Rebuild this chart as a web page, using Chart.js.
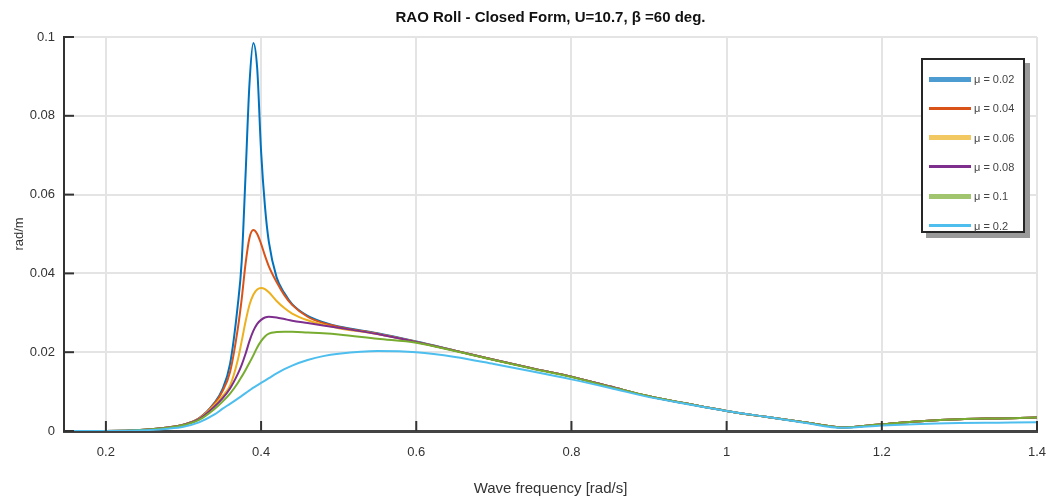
<!DOCTYPE html>
<html>
<head>
<meta charset="utf-8">
<script src="https://cdn.jsdelivr.net/npm/chart.js@4.4.1/dist/chart.umd.min.js"></script>
<style>
    html, body { margin: 0; padding: 0; background: #fff; }
    #wrap { position: relative; width: 1051px; height: 502px; }
    #legend {
        position: absolute; left: 921px; top: 58px; width: 100px; height: 171px;
        border: 2px solid #262626; background: #fff;
        box-shadow: 5px 5px 0 #9a9a9a;
        font-family: "Liberation Sans", Arial, sans-serif;
        font-size: 11px; color: #444;
    }
    .row { position: absolute; left: 6px; height: 12px; display: flex; align-items: center; }
    .swatch { width: 42px; margin-right: 3px; }
</style>
</head>
<body>
<div id="wrap">
    <canvas id="rao" width="1051" height="502"></canvas>
    <div id="legend"></div>
</div>
<script>
// Wave frequency [rad/s]
const freq = [0.15, 0.20, 0.25, 0.28, 0.30, 0.32, 0.34, 0.35, 0.36, 0.37, 0.375, 0.38, 0.385, 0.39, 0.395,
    0.40, 0.405, 0.41, 0.42, 0.43, 0.44, 0.46, 0.48, 0.50, 0.55, 0.60, 0.65, 0.70, 0.75, 0.80, 0.85,
    0.90, 0.95, 1.00, 1.05, 1.10, 1.15, 1.20, 1.25, 1.30, 1.35, 1.40];

// RAO roll [rad/m] per damping value
const mu002 = [0, 0, 0.0003, 0.0009, 0.0016, 0.0032, 0.0072, 0.0105, 0.0170, 0.0320, 0.0430, 0.0650, 0.0880, 0.0985, 0.0920,
    0.0710, 0.0570, 0.0480, 0.0390, 0.0350, 0.0322, 0.0292, 0.0276, 0.0265, 0.0248, 0.0227, 0.0204, 0.0181, 0.0159, 0.0138, 0.0113,
    0.0088, 0.0069, 0.0051, 0.0036, 0.0022, 0.0009, 0.0017, 0.0025, 0.0030, 0.0032, 0.0034];
const mu004 = [0, 0, 0.0003, 0.0009, 0.0016, 0.0032, 0.0070, 0.0100, 0.0150, 0.0260, 0.0335, 0.0425, 0.0490, 0.0510, 0.0500,
    0.0475, 0.0445, 0.0418, 0.0378, 0.0345, 0.0320, 0.0290, 0.0274, 0.0264, 0.0247, 0.0226, 0.0204, 0.0181, 0.0159, 0.0138, 0.0113,
    0.0088, 0.0069, 0.0051, 0.0036, 0.0022, 0.0009, 0.0017, 0.0025, 0.0030, 0.0032, 0.0034];
const mu006 = [0, 0, 0.0003, 0.0009, 0.0016, 0.0031, 0.0066, 0.0088, 0.0115, 0.0180, 0.0228, 0.0278, 0.0320, 0.0346, 0.0359,
    0.0363, 0.0360, 0.0352, 0.0330, 0.0312, 0.0298, 0.0281, 0.0270, 0.0261, 0.0246, 0.0226, 0.0204, 0.0181, 0.0159, 0.0138, 0.0113,
    0.0088, 0.0069, 0.0051, 0.0036, 0.0022, 0.0009, 0.0017, 0.0025, 0.0030, 0.0032, 0.0034];
const mu008 = [0, 0, 0.0003, 0.0009, 0.0016, 0.0030, 0.0062, 0.0082, 0.0108, 0.0145, 0.0168, 0.0196, 0.0228, 0.0254, 0.0272,
    0.0282, 0.0288, 0.0290, 0.0288, 0.0284, 0.0280, 0.0274, 0.0268, 0.0262, 0.0246, 0.0226, 0.0204, 0.0181, 0.0159, 0.0138, 0.0113,
    0.0088, 0.0069, 0.0051, 0.0036, 0.0022, 0.0009, 0.0017, 0.0025, 0.0030, 0.0032, 0.0034];
const mu01 = [0, 0, 0.0003, 0.0008, 0.0015, 0.0028, 0.0056, 0.0074, 0.0095, 0.0122, 0.0138, 0.0155, 0.0173, 0.0192, 0.0212,
    0.0228, 0.0240, 0.0247, 0.0251, 0.0252, 0.0252, 0.0250, 0.0248, 0.0245, 0.0234, 0.0224, 0.0203, 0.0180, 0.0158, 0.0137, 0.0112,
    0.0088, 0.0069, 0.0051, 0.0036, 0.0022, 0.0009, 0.0017, 0.0025, 0.0030, 0.0032, 0.0034];
const mu02 = [0, 0, 0.0002, 0.0006, 0.0011, 0.0022, 0.0042, 0.0056, 0.0069, 0.0082, 0.0089, 0.0096, 0.0103, 0.0110, 0.0116,
    0.0122, 0.0128, 0.0134, 0.0146, 0.0157, 0.0166, 0.0180, 0.0190, 0.0196, 0.0203, 0.0200, 0.0188, 0.0170, 0.0151, 0.0131, 0.0109,
    0.0086, 0.0068, 0.0051, 0.0036, 0.0021, 0.0008, 0.0014, 0.0018, 0.0020, 0.0021, 0.0022];

const seriesLabels = ['μ = 0.02', 'μ = 0.04', 'μ = 0.06', 'μ = 0.08', 'μ = 0.1', 'μ = 0.2'];
const seriesValues = [mu002, mu004, mu006, mu008, mu01, mu02];
const seriesColors = ['#0072BD', '#D95319', '#EDB120', '#7E2F8E', '#77AC30', '#4DBEEE'];

const xTicks = [0.2, 0.4, 0.6, 0.8, 1.0, 1.2, 1.4];
const yTicks = [0, 0.02, 0.04, 0.06, 0.08, 0.1];

const FONT = '"Liberation Sans", Arial, sans-serif';

// MATLAB style inward tick marks
const innerTicks = {
    id: 'innerTicks',
    afterDatasetsDraw(chart) {
        const { ctx, chartArea, scales } = chart;
        ctx.save();
        ctx.strokeStyle = '#333';
        ctx.lineWidth = 2;
        xTicks.forEach(v => {
            const px = scales.x.getPixelForValue(v);
            ctx.beginPath();
            ctx.moveTo(px, chartArea.bottom);
            ctx.lineTo(px, chartArea.bottom - 10);
            ctx.stroke();
        });
        yTicks.forEach(v => {
            const py = scales.y.getPixelForValue(v);
            ctx.beginPath();
            ctx.moveTo(chartArea.left, py);
            ctx.lineTo(chartArea.left + 10, py);
            ctx.stroke();
        });
        ctx.restore();
    }
};

const datasets = seriesValues.map((vals, i) => ({
    label: seriesLabels[i],
    data: freq.map((f, j) => ({ x: f, y: vals[j] })),
    borderColor: seriesColors[i],
    backgroundColor: seriesColors[i],
    borderWidth: 2,
    pointRadius: 0,
    cubicInterpolationMode: 'monotone',
    order: seriesValues.length - i
}));

new Chart(document.getElementById('rao'), {
    type: 'line',
    data: { datasets },
    plugins: [innerTicks],
    options: {
        responsive: false,
        animation: false,
        layout: { padding: { left: 0, right: 4, top: 0, bottom: 0 } },
        plugins: {
            legend: { display: false },
            tooltip: { enabled: false },
            title: {
                display: true,
                fullSize: false,
                text: 'RAO Roll - Closed Form, U=10.7, β =60 deg.',
                color: '#111',
                font: { family: FONT, size: 15, weight: 'bold' },
                padding: { top: 9, bottom: 10 }
            }
        },
        scales: {
            x: {
                type: 'linear',
                min: 0.146,
                max: 1.4,
                afterBuildTicks: scale => { scale.ticks = xTicks.map(v => ({ value: v })); },
                afterFit: scale => {
                    scale.height = 71;
                    scale.paddingLeft = 0;
                    scale.paddingRight = 14;
                },
                grid: { color: '#e4e4e4', lineWidth: 2, drawTicks: false },
                border: { color: '#444', width: 3 },
                ticks: {
                    color: '#333',
                    padding: 14,
                    maxRotation: 0,
                    font: { family: FONT, size: 13 },
                    callback: v => String(v)
                },
                title: {
                    display: true,
                    text: 'Wave frequency [rad/s]',
                    color: '#333',
                    font: { family: FONT, size: 15 },
                    padding: { top: 10 }
                }
            },
            y: {
                min: 0,
                max: 0.1,
                afterBuildTicks: scale => { scale.ticks = yTicks.map(v => ({ value: v })); },
                afterFit: scale => { scale.width = 64; },
                grid: { color: '#e4e4e4', lineWidth: 2, drawTicks: false },
                border: { color: '#333', width: 2 },
                ticks: {
                    color: '#333',
                    padding: 9,
                    font: { family: FONT, size: 13 },
                    callback: v => String(v)
                },
                title: {
                    display: true,
                    text: 'rad/m',
                    color: '#333',
                    font: { family: FONT, size: 13 },
                    padding: { top: 12, bottom: 2 }
                }
            }
        }
    }
});

// legend box in the top right corner
const legendEl = document.getElementById('legend');
seriesLabels.forEach((label, i) => {
    const row = document.createElement('div');
    row.className = 'row';
    row.style.top = (13 + i * 29.3) + 'px';
    const sw = document.createElement('div');
    sw.className = 'swatch';
    const thick = i % 2 === 0;
    sw.style.height = thick ? '5px' : '3px';
    sw.style.background = seriesColors[i];
    sw.style.opacity = thick ? '0.7' : '1';
    const txt = document.createElement('span');
    txt.textContent = label;
    row.appendChild(sw);
    row.appendChild(txt);
    legendEl.appendChild(row);
});
</script>
</body>
</html>
